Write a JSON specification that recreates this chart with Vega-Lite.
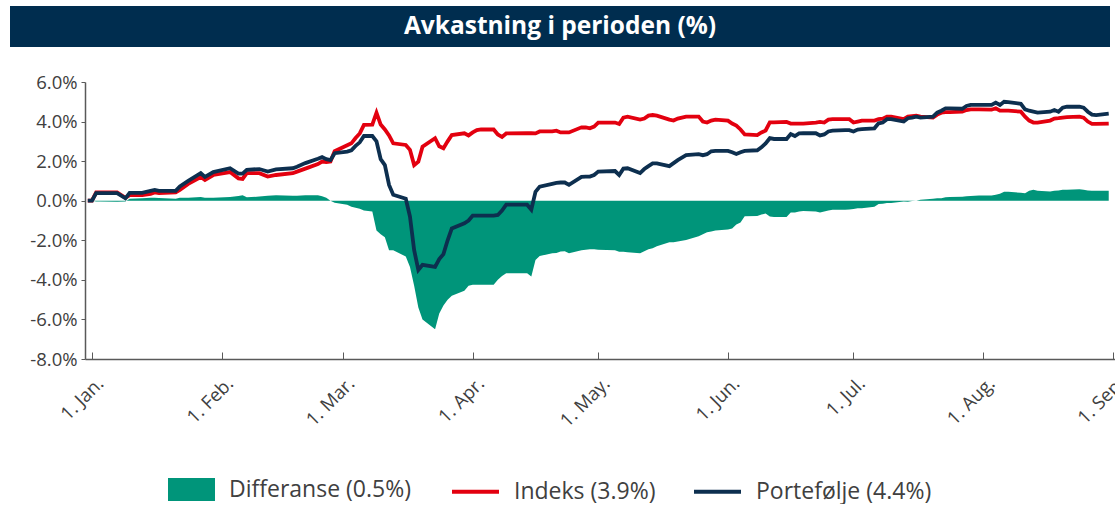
{
  "$schema": "https://vega.github.io/schema/vega-lite/v6.json",
  "padding": {"left": 10, "top": 6, "right": 0, "bottom": 0},
  "background": "white",
  "spacing": 26,
  "config": {
    "font": "Open Sans",
    "view": {"stroke": null},
    "axis": {"grid": false, "domainColor": "#595959", "tickColor": "#595959", "labelColor": "#404040", "labelFont": "Open Sans", "title": null}
  },
  "vconcat": [
    {
      "width": 1100,
      "height": 41,
      "view": {"fill": "#002d4f", "stroke": null},
      "data": {"values": [{"t": "Avkastning i perioden (%)"}]},
      "mark": {"type": "text", "color": "white", "font": "Open Sans", "fontWeight": "bold", "fontSize": 24.5, "align": "center", "baseline": "middle"},
      "encoding": {"text": {"field": "t", "type": "nominal"}}
    },
    {
      "width": 1105,
      "height": 277,
      "data": {"values": [
        {"date": "2019-12-31", "indeks": 0, "portefolje": 0, "diff": 0},
        {"date": "2020-01-01", "indeks": 0, "portefolje": 0, "diff": 0},
        {"date": "2020-01-02", "indeks": 0.42, "portefolje": 0.38, "diff": -0.04},
        {"date": "2020-01-03", "indeks": 0.42, "portefolje": 0.38, "diff": -0.04},
        {"date": "2020-01-07", "indeks": 0.42, "portefolje": 0.38, "diff": -0.05},
        {"date": "2020-01-09", "indeks": 0.15, "portefolje": 0.12, "diff": -0.04},
        {"date": "2020-01-10", "indeks": 0.28, "portefolje": 0.4, "diff": 0.1},
        {"date": "2020-01-13", "indeks": 0.28, "portefolje": 0.4, "diff": 0.12},
        {"date": "2020-01-15", "indeks": 0.35, "portefolje": 0.5, "diff": 0.15},
        {"date": "2020-01-16", "indeks": 0.42, "portefolje": 0.55, "diff": 0.15},
        {"date": "2020-01-17", "indeks": 0.38, "portefolje": 0.5, "diff": 0.14},
        {"date": "2020-01-21", "indeks": 0.42, "portefolje": 0.5, "diff": 0.1},
        {"date": "2020-01-22", "indeks": 0.55, "portefolje": 0.72, "diff": 0.15},
        {"date": "2020-01-24", "indeks": 0.85, "portefolje": 1.0, "diff": 0.15},
        {"date": "2020-01-27", "indeks": 1.2, "portefolje": 1.39, "diff": 0.19},
        {"date": "2020-01-28", "indeks": 1.05, "portefolje": 1.2, "diff": 0.15},
        {"date": "2020-01-30", "indeks": 1.3, "portefolje": 1.45, "diff": 0.15},
        {"date": "2020-02-03", "indeks": 1.45, "portefolje": 1.64, "diff": 0.19},
        {"date": "2020-02-05", "indeks": 1.13, "portefolje": 1.37, "diff": 0.24},
        {"date": "2020-02-06", "indeks": 1.1, "portefolje": 1.37, "diff": 0.27},
        {"date": "2020-02-07", "indeks": 1.39, "portefolje": 1.56, "diff": 0.17},
        {"date": "2020-02-10", "indeks": 1.39, "portefolje": 1.6, "diff": 0.21},
        {"date": "2020-02-12", "indeks": 1.22, "portefolje": 1.47, "diff": 0.25},
        {"date": "2020-02-14", "indeks": 1.3, "portefolje": 1.58, "diff": 0.28},
        {"date": "2020-02-18", "indeks": 1.39, "portefolje": 1.64, "diff": 0.25},
        {"date": "2020-02-19", "indeks": 1.47, "portefolje": 1.72, "diff": 0.25},
        {"date": "2020-02-21", "indeks": 1.62, "portefolje": 1.9, "diff": 0.28},
        {"date": "2020-02-24", "indeks": 1.85, "portefolje": 2.12, "diff": 0.27},
        {"date": "2020-02-25", "indeks": 1.98, "portefolje": 2.2, "diff": 0.22},
        {"date": "2020-02-26", "indeks": 1.95, "portefolje": 2.1, "diff": 0.15},
        {"date": "2020-02-27", "indeks": 1.98, "portefolje": 2.05, "diff": 0.0},
        {"date": "2020-02-28", "indeks": 2.5, "portefolje": 2.4, "diff": -0.1},
        {"date": "2020-03-02", "indeks": 2.8, "portefolje": 2.48, "diff": -0.2},
        {"date": "2020-03-03", "indeks": 2.9, "portefolje": 2.55, "diff": -0.3},
        {"date": "2020-03-04", "indeks": 3.17, "portefolje": 2.77, "diff": -0.35},
        {"date": "2020-03-05", "indeks": 3.4, "portefolje": 2.95, "diff": -0.4},
        {"date": "2020-03-06", "indeks": 3.83, "portefolje": 3.27, "diff": -0.5},
        {"date": "2020-03-08", "indeks": 3.85, "portefolje": 3.27, "diff": -0.55},
        {"date": "2020-03-09", "indeks": 4.45, "portefolje": 3.0, "diff": -1.5},
        {"date": "2020-03-10", "indeks": 3.85, "portefolje": 2.1, "diff": -1.7},
        {"date": "2020-03-11", "indeks": 3.6, "portefolje": 1.8, "diff": -1.85},
        {"date": "2020-03-12", "indeks": 3.3, "portefolje": 0.8, "diff": -2.5},
        {"date": "2020-03-13", "indeks": 2.9, "portefolje": 0.3, "diff": -2.5},
        {"date": "2020-03-16", "indeks": 2.82, "portefolje": 0.1, "diff": -2.82},
        {"date": "2020-03-17", "indeks": 2.57, "portefolje": -0.8, "diff": -3.35},
        {"date": "2020-03-18", "indeks": 1.8, "portefolje": -2.5, "diff": -4.3},
        {"date": "2020-03-19", "indeks": 1.97, "portefolje": -3.5, "diff": -5.4},
        {"date": "2020-03-20", "indeks": 2.73, "portefolje": -3.24, "diff": -6.0},
        {"date": "2020-03-23", "indeks": 3.16, "portefolje": -3.35, "diff": -6.5},
        {"date": "2020-03-24", "indeks": 2.75, "portefolje": -2.95, "diff": -5.7},
        {"date": "2020-03-25", "indeks": 2.65, "portefolje": -2.7, "diff": -5.3},
        {"date": "2020-03-26", "indeks": 3.0, "portefolje": -2.0, "diff": -5.0},
        {"date": "2020-03-27", "indeks": 3.32, "portefolje": -1.4, "diff": -4.8},
        {"date": "2020-03-30", "indeks": 3.41, "portefolje": -1.14, "diff": -4.55},
        {"date": "2020-03-31", "indeks": 3.3, "portefolje": -1.0, "diff": -4.3},
        {"date": "2020-04-01", "indeks": 3.45, "portefolje": -0.75, "diff": -4.25},
        {"date": "2020-04-02", "indeks": 3.57, "portefolje": -0.75, "diff": -4.25},
        {"date": "2020-04-03", "indeks": 3.61, "portefolje": -0.75, "diff": -4.25},
        {"date": "2020-04-06", "indeks": 3.6, "portefolje": -0.75, "diff": -4.25},
        {"date": "2020-04-07", "indeks": 3.35, "portefolje": -0.72, "diff": -4.0},
        {"date": "2020-04-08", "indeks": 3.22, "portefolje": -0.5, "diff": -3.8},
        {"date": "2020-04-09", "indeks": 3.4, "portefolje": -0.2, "diff": -3.66},
        {"date": "2020-04-14", "indeks": 3.41, "portefolje": -0.2, "diff": -3.66},
        {"date": "2020-04-15", "indeks": 3.41, "portefolje": -0.45, "diff": -3.83},
        {"date": "2020-04-16", "indeks": 3.4, "portefolje": 0.45, "diff": -3.0},
        {"date": "2020-04-17", "indeks": 3.5, "portefolje": 0.71, "diff": -2.8},
        {"date": "2020-04-20", "indeks": 3.5, "portefolje": 0.85, "diff": -2.65},
        {"date": "2020-04-21", "indeks": 3.54, "portefolje": 0.9, "diff": -2.64},
        {"date": "2020-04-22", "indeks": 3.45, "portefolje": 0.92, "diff": -2.57},
        {"date": "2020-04-23", "indeks": 3.45, "portefolje": 0.92, "diff": -2.55},
        {"date": "2020-04-24", "indeks": 3.45, "portefolje": 0.8, "diff": -2.65},
        {"date": "2020-04-27", "indeks": 3.71, "portefolje": 1.2, "diff": -2.5},
        {"date": "2020-04-28", "indeks": 3.7, "portefolje": 1.22, "diff": -2.48},
        {"date": "2020-04-29", "indeks": 3.66, "portefolje": 1.22, "diff": -2.45},
        {"date": "2020-04-30", "indeks": 3.75, "portefolje": 1.3, "diff": -2.45},
        {"date": "2020-05-01", "indeks": 3.95, "portefolje": 1.47, "diff": -2.48},
        {"date": "2020-05-05", "indeks": 3.95, "portefolje": 1.5, "diff": -2.5},
        {"date": "2020-05-06", "indeks": 3.88, "portefolje": 1.3, "diff": -2.58},
        {"date": "2020-05-07", "indeks": 4.2, "portefolje": 1.62, "diff": -2.58},
        {"date": "2020-05-08", "indeks": 4.25, "portefolje": 1.64, "diff": -2.6},
        {"date": "2020-05-11", "indeks": 4.1, "portefolje": 1.4, "diff": -2.65},
        {"date": "2020-05-12", "indeks": 4.15, "portefolje": 1.6, "diff": -2.55},
        {"date": "2020-05-13", "indeks": 4.3, "portefolje": 1.75, "diff": -2.45},
        {"date": "2020-05-14", "indeks": 4.33, "portefolje": 1.89, "diff": -2.4},
        {"date": "2020-05-15", "indeks": 4.3, "portefolje": 1.89, "diff": -2.3},
        {"date": "2020-05-18", "indeks": 4.1, "portefolje": 1.75, "diff": -2.1},
        {"date": "2020-05-19", "indeks": 4.05, "portefolje": 1.9, "diff": -2.1},
        {"date": "2020-05-20", "indeks": 4.15, "portefolje": 2.05, "diff": -2.06},
        {"date": "2020-05-22", "indeks": 4.25, "portefolje": 2.3, "diff": -1.98},
        {"date": "2020-05-25", "indeks": 4.25, "portefolje": 2.35, "diff": -1.8},
        {"date": "2020-05-26", "indeks": 4.0, "portefolje": 2.3, "diff": -1.7},
        {"date": "2020-05-27", "indeks": 3.95, "portefolje": 2.35, "diff": -1.6},
        {"date": "2020-05-28", "indeks": 4.05, "portefolje": 2.5, "diff": -1.55},
        {"date": "2020-05-29", "indeks": 4.1, "portefolje": 2.52, "diff": -1.5},
        {"date": "2020-06-01", "indeks": 4.05, "portefolje": 2.52, "diff": -1.45},
        {"date": "2020-06-02", "indeks": 3.9, "portefolje": 2.45, "diff": -1.4},
        {"date": "2020-06-03", "indeks": 3.8, "portefolje": 2.36, "diff": -1.2},
        {"date": "2020-06-04", "indeks": 3.6, "portefolje": 2.45, "diff": -1.1},
        {"date": "2020-06-05", "indeks": 3.35, "portefolje": 2.52, "diff": -0.78},
        {"date": "2020-06-08", "indeks": 3.32, "portefolje": 2.55, "diff": -0.77},
        {"date": "2020-06-09", "indeks": 3.45, "portefolje": 2.7, "diff": -0.7},
        {"date": "2020-06-10", "indeks": 3.55, "portefolje": 2.9, "diff": -0.65},
        {"date": "2020-06-11", "indeks": 3.96, "portefolje": 3.16, "diff": -0.8},
        {"date": "2020-06-12", "indeks": 3.96, "portefolje": 3.12, "diff": -0.82},
        {"date": "2020-06-15", "indeks": 3.98, "portefolje": 3.12, "diff": -0.82},
        {"date": "2020-06-16", "indeks": 3.9, "portefolje": 3.37, "diff": -0.6},
        {"date": "2020-06-17", "indeks": 3.9, "portefolje": 3.27, "diff": -0.6},
        {"date": "2020-06-18", "indeks": 3.9, "portefolje": 3.4, "diff": -0.55},
        {"date": "2020-06-19", "indeks": 3.9, "portefolje": 3.41, "diff": -0.52},
        {"date": "2020-06-22", "indeks": 3.95, "portefolje": 3.41, "diff": -0.55},
        {"date": "2020-06-23", "indeks": 3.98, "portefolje": 3.3, "diff": -0.6},
        {"date": "2020-06-24", "indeks": 3.95, "portefolje": 3.35, "diff": -0.55},
        {"date": "2020-06-25", "indeks": 4.1, "portefolje": 3.5, "diff": -0.5},
        {"date": "2020-06-26", "indeks": 4.12, "portefolje": 3.54, "diff": -0.46},
        {"date": "2020-06-29", "indeks": 4.12, "portefolje": 3.57, "diff": -0.46},
        {"date": "2020-06-30", "indeks": 4.12, "portefolje": 3.57, "diff": -0.45},
        {"date": "2020-07-01", "indeks": 3.95, "portefolje": 3.5, "diff": -0.42},
        {"date": "2020-07-02", "indeks": 4.0, "portefolje": 3.6, "diff": -0.38},
        {"date": "2020-07-03", "indeks": 4.05, "portefolje": 3.62, "diff": -0.38},
        {"date": "2020-07-06", "indeks": 4.05, "portefolje": 3.66, "diff": -0.3},
        {"date": "2020-07-07", "indeks": 4.12, "portefolje": 3.91, "diff": -0.16},
        {"date": "2020-07-08", "indeks": 4.15, "portefolje": 3.95, "diff": -0.15},
        {"date": "2020-07-09", "indeks": 4.25, "portefolje": 4.12, "diff": -0.12},
        {"date": "2020-07-10", "indeks": 4.25, "portefolje": 4.12, "diff": -0.12},
        {"date": "2020-07-13", "indeks": 4.12, "portefolje": 4.0, "diff": -0.04},
        {"date": "2020-07-14", "indeks": 4.25, "portefolje": 4.17, "diff": -0.05},
        {"date": "2020-07-15", "indeks": 4.28, "portefolje": 4.2, "diff": -0.01},
        {"date": "2020-07-16", "indeks": 4.3, "portefolje": 4.25, "diff": 0.0},
        {"date": "2020-07-17", "indeks": 4.25, "portefolje": 4.2, "diff": 0.05},
        {"date": "2020-07-20", "indeks": 4.2, "portefolje": 4.25, "diff": 0.1},
        {"date": "2020-07-21", "indeks": 4.35, "portefolje": 4.45, "diff": 0.13},
        {"date": "2020-07-22", "indeks": 4.45, "portefolje": 4.55, "diff": 0.12},
        {"date": "2020-07-23", "indeks": 4.48, "portefolje": 4.67, "diff": 0.18},
        {"date": "2020-07-24", "indeks": 4.48, "portefolje": 4.67, "diff": 0.19},
        {"date": "2020-07-27", "indeks": 4.5, "portefolje": 4.65, "diff": 0.2},
        {"date": "2020-07-28", "indeks": 4.58, "portefolje": 4.79, "diff": 0.22},
        {"date": "2020-07-29", "indeks": 4.62, "portefolje": 4.84, "diff": 0.24},
        {"date": "2020-07-30", "indeks": 4.62, "portefolje": 4.84, "diff": 0.25},
        {"date": "2020-07-31", "indeks": 4.62, "portefolje": 4.84, "diff": 0.26},
        {"date": "2020-08-03", "indeks": 4.6, "portefolje": 4.84, "diff": 0.26},
        {"date": "2020-08-04", "indeks": 4.67, "portefolje": 4.96, "diff": 0.3},
        {"date": "2020-08-05", "indeks": 4.55, "portefolje": 4.84, "diff": 0.35},
        {"date": "2020-08-06", "indeks": 4.55, "portefolje": 5.0, "diff": 0.45},
        {"date": "2020-08-07", "indeks": 4.55, "portefolje": 4.98, "diff": 0.45},
        {"date": "2020-08-10", "indeks": 4.5, "portefolje": 4.9, "diff": 0.4},
        {"date": "2020-08-11", "indeks": 4.25, "portefolje": 4.62, "diff": 0.38},
        {"date": "2020-08-12", "indeks": 4.05, "portefolje": 4.55, "diff": 0.5},
        {"date": "2020-08-13", "indeks": 3.95, "portefolje": 4.5, "diff": 0.55},
        {"date": "2020-08-14", "indeks": 3.95, "portefolje": 4.45, "diff": 0.5},
        {"date": "2020-08-17", "indeks": 4.05, "portefolje": 4.5, "diff": 0.46},
        {"date": "2020-08-18", "indeks": 4.15, "portefolje": 4.58, "diff": 0.5},
        {"date": "2020-08-19", "indeks": 4.17, "portefolje": 4.5, "diff": 0.52},
        {"date": "2020-08-20", "indeks": 4.2, "portefolje": 4.7, "diff": 0.55},
        {"date": "2020-08-21", "indeks": 4.22, "portefolje": 4.75, "diff": 0.55},
        {"date": "2020-08-24", "indeks": 4.25, "portefolje": 4.75, "diff": 0.58},
        {"date": "2020-08-25", "indeks": 4.2, "portefolje": 4.7, "diff": 0.55},
        {"date": "2020-08-26", "indeks": 4.0, "portefolje": 4.5, "diff": 0.52},
        {"date": "2020-08-27", "indeks": 3.88, "portefolje": 4.35, "diff": 0.5},
        {"date": "2020-08-28", "indeks": 3.88, "portefolje": 4.33, "diff": 0.5},
        {"date": "2020-08-31", "indeks": 3.9, "portefolje": 4.4, "diff": 0.5}
      ]},
      "encoding": {
        "x": {
          "field": "date", "type": "temporal",
          "scale": {"type": "utc", "range": [75, 1105], "domain": [{"year": 2019, "month": 12, "date": 30, "hours": 8, "utc": true}, {"year": 2020, "month": 9, "date": 1, "hours": 12, "utc": true}]},
          "axis": {"labelExpr": "utcFormat(datum.value, '%-d. %b.')", "tickCount": {"interval": "month", "step": 1}, "labelAngle": -45, "labelAlign": "right", "labelBaseline": "middle", "labelFontSize": 18.5, "labelPadding": 28, "labelOffset": 8, "tickSize": -7, "domainWidth": 1.5, "labelFlush": false, "labelOverlap": false}
        }
      },
      "layer": [
        {
          "mark": {"type": "area", "opacity": 1},
          "encoding": {
            "y": {"field": "diff", "type": "quantitative", "scale": {"domain": [-8, 6], "nice": false, "zero": false},
              "axis": {"values": [-8, -6, -4, -2, 0, 2, 4, 6], "labelExpr": "replace(format(datum.value, '.1f'), '\u2212', '-') + '%'", "labelFontSize": 18.5, "labelOverlap": false, "labelSeparation": 0, "tickSize": 4, "labelPadding": 4, "offset": -75, "domainWidth": 1.5}},
            "y2": {"datum": 0},
            "fill": {"datum": "Differanse (0.5%)", "type": "nominal",
              "scale": {"domain": ["Differanse (0.5%)"], "range": ["#00957a"]},
              "legend": {
                "orient": "none", "direction": "horizontal", "legendX": 158, "legendY": 460,
                "title": null, "labelFontSize": 23, "labelColor": "#404040", "labelFont": "Open Sans",
                "labelOffset": 14, "symbolSize": 2209, "symbolType": "M-1,-0.49H1V0.49H-1Z", "symbolStrokeWidth": 0, "symbolOpacity": 1, "labelLimit": 400
              }}
          }
        },
        {
          "mark": {"type": "line", "strokeWidth": 3.8},
          "encoding": {
            "y": {"field": "indeks", "type": "quantitative",
              "axis": {"values": [-8, -6, -4, -2, 0, 2, 4, 6], "labelExpr": "replace(format(datum.value, '.1f'), '\u2212', '-') + '%'", "labelFontSize": 18.5, "labelOverlap": false, "labelSeparation": 0, "tickSize": 4, "labelPadding": 4, "offset": -75, "domainWidth": 1.5}},
            "stroke": {"datum": "Indeks (3.9%)", "type": "nominal",
              "scale": {"domain": ["Indeks (3.9%)", "Portefølje (4.4%)"], "range": ["#e3000f", "#0d2f4f"]},
              "legend": {
                "orient": "none", "direction": "horizontal", "legendX": 440, "legendY": 460,
                "title": null, "labelFontSize": 23, "labelColor": "#404040", "labelFont": "Open Sans",
                "labelOffset": 13, "columnPadding": 30, "symbolSize": 2209, "symbolType": "stroke", "symbolStrokeWidth": 3.8, "labelLimit": 400
              }}
          }
        },
        {
          "mark": {"type": "line", "strokeWidth": 3.8},
          "encoding": {
            "y": {"field": "portefolje", "type": "quantitative",
              "axis": {"values": [-8, -6, -4, -2, 0, 2, 4, 6], "labelExpr": "replace(format(datum.value, '.1f'), '\u2212', '-') + '%'", "labelFontSize": 18.5, "labelOverlap": false, "labelSeparation": 0, "tickSize": 4, "labelPadding": 4, "offset": -75, "domainWidth": 1.5}},
            "stroke": {"datum": "Portefølje (4.4%)", "type": "nominal"}
          }
        }
      ]
    }
  ]
}
